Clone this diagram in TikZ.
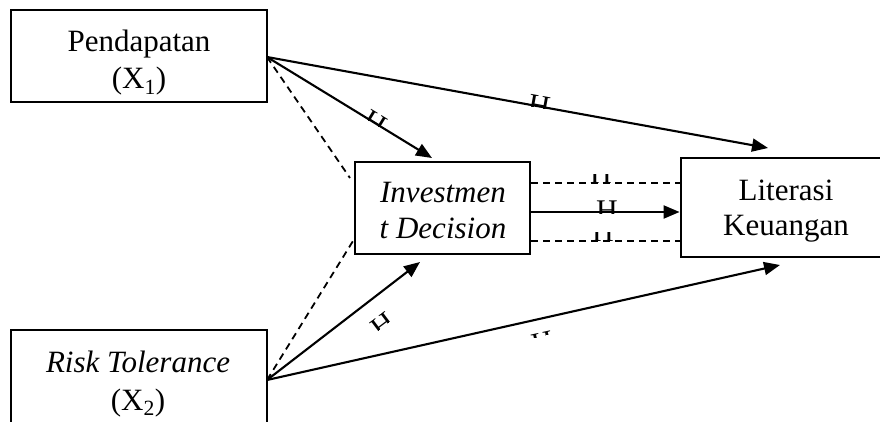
\documentclass[tikz,border=0pt]{standalone}
\usepackage{fontspec}
\setmainfont{Liberation Serif}
\usetikzlibrary{arrows.meta,calc}

% a label "H" of which only a slice is visible
\newcommand\hpiece[7]{%
  \begin{scope}[shift={(#2,#3)},rotate=#4]
    \clip (-14,#6) rectangle (14,#7);
    \node[hlabel,rotate=#4] (#1) at (0,#5) {H};
  \end{scope}}

\tikzset{
  box/.style={draw,line width=2.8pt,inner sep=0pt},
  txt/.style={font=\fontsize{31}{37}\selectfont,inner sep=0pt,anchor=base},
  hlabel/.style={font=\fontsize{30}{34}\selectfont,inner sep=0pt,anchor=base},
  link/.style={line width=2.1pt,-{Triangle[length=16pt,width=13pt]}},
  dline/.style={line width=1.8pt,dash pattern=on 7pt off 5pt},
}

\begin{document}
\begin{tikzpicture}[x=1pt,y=1pt]
\useasboundingbox (0,0) rectangle (880,421);
\clip (0,0) rectangle (880,421);

% boxes
\node[box,minimum width=256pt,minimum height=92pt] (pend) at (139,365) {};
\node[box,minimum width=256pt,minimum height=100pt] (risk) at (139,41) {};
\node[box,minimum width=175pt,minimum height=92pt] (inv) at (442.5,213) {};
\node[box,minimum width=210pt,minimum height=99pt] (lit) at (786,213.5) {};

% box texts
\node[txt] (pendA) at (139,369) {Pendapatan};
\node[txt] (pendB) at (139,332) {(X\textsubscript{1})};
\node[txt] (riskA) at (138,49) {\itshape Risk Tolerance};
\node[txt] (riskB) at (138,11) {(X\textsubscript{2})};
\node[txt] (invA) at (443,219) {\itshape Investmen};
\node[txt] (invB) at (443,183) {\itshape t Decision};
\node[txt] (litA) at (786,221) {Literasi};
\node[txt] (litB) at (786,186) {Keuangan};

% end points of the connectors
\coordinate (pendOut) at (267,364);
\coordinate (riskOut) at (267,41);
\coordinate (invTop) at (432,263);
\coordinate (invBot) at (420,159);
\coordinate (invDashTop) at (350,243);
\coordinate (invDashBot) at (353,180);
\coordinate (litTop) at (768,273);
\coordinate (litBot) at (780,156);

% connectors from Pendapatan
\draw[link] (pendOut) -- (invTop);
\draw[link] (pendOut) -- (litTop);
\draw[dline] (pendOut) -- (invDashTop);

% connectors from Risk Tolerance
\draw[link] (riskOut) -- (invBot);
\draw[link] (riskOut) -- (litBot);
\draw[dline] (riskOut) -- (invDashBot);

% connectors from Investment Decision to Literasi Keuangan
\draw[dline] (inv.east |- 0,238) -- (lit.west |- 0,238);
\draw[link] (inv.east |- 0,209) -- (lit.west |- 0,209);
\draw[dline] (inv.east |- 0,180) -- (lit.west |- 0,180);

% hypothesis labels
\hpiece{h1}{375}{298}{-31.5}{-9.5}{-1}{12}
\hpiece{h2}{539}{314.6}{-10.3}{-9.5}{-1}{12}
\hpiece{h3}{601}{238}{0}{0}{-1}{9}
\hpiece{h4}{607}{209}{0}{-8.8}{-1}{12}
\hpiece{h5}{603}{179.5}{0}{0}{-0.5}{9}
\hpiece{h6}{380}{100}{37}{-15}{-6}{6}
\hpiece{h7}{541}{87}{12.6}{-19}{-2}{3}
\end{tikzpicture}
\end{document}
